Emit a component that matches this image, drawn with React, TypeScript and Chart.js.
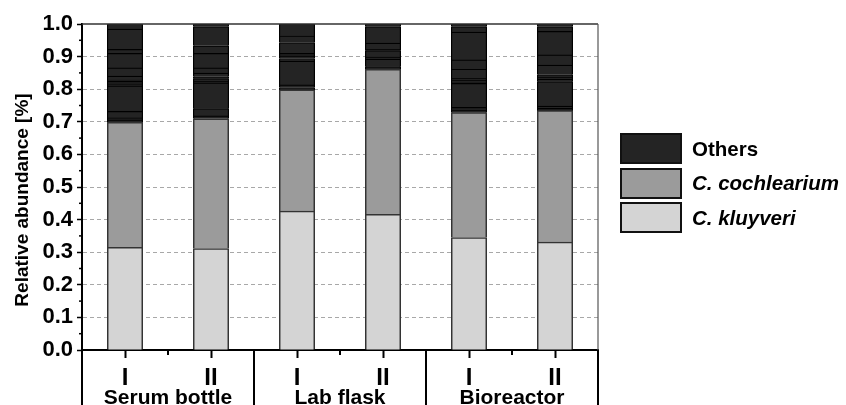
import React, { useEffect, useRef } from "react";
import { Chart, registerables } from "chart.js";

Chart.register(...registerables);

const samples = ["I", "II", "I", "II", "I", "II"];
const groups = ["Serum bottle", "Lab flask", "Bioreactor"];
const kluyveri = [0.315, 0.311, 0.426, 0.416, 0.345, 0.331];
const cochlearium = [0.383, 0.398, 0.372, 0.445, 0.383, 0.403];
// "Others" split into individual minor taxa, bottom to top
const othersSerumI = [0.008, 0.006, 0.02, 0.078, 0.006, 0.008, 0.004, 0.012, 0.025, 0.045, 0.012, 0.062, 0.016];
const othersSerumII = [0.009, 0.022, 0.079, 0.005, 0.008, 0.006, 0.011, 0.016, 0.045, 0.023, 0.059, 0.008];
const othersLabI = [0.007, 0.008, 0.073, 0.008, 0.008, 0.008, 0.033, 0.02, 0.037];
const othersLabII = [0.008, 0.023, 0.006, 0.02, 0.004, 0.019, 0.051, 0.008];
const othersBioI = [0.008, 0.008, 0.074, 0.004, 0.006, 0.005, 0.028, 0.029, 0.085, 0.017, 0.008];
const othersBioII = [0.007, 0.007, 0.075, 0.008, 0.006, 0.007, 0.03, 0.031, 0.072, 0.015, 0.008];
const yTicks = [0, 0.1, 0.2, 0.3, 0.4, 0.5, 0.6, 0.7, 0.8, 0.9, 1.0];

const FONT = '"Liberation Sans", Arial, Helvetica, sans-serif';
const COL_OTHERS = "#242424";
const COL_COCH = "#9b9b9b";
const COL_KLUY = "#d4d4d4";

const othersBySample = [othersSerumI, othersSerumII, othersLabI, othersLabII, othersBioI, othersBioII];

const decor = {
  id: "decor",
  afterDraw(chart: any) {
    const { ctx, chartArea: a, scales } = chart;
    const x = scales.x;
    const y = scales.y;
    const H = chart.height;
    const line = (x1: number, y1: number, x2: number, y2: number) => {
      ctx.beginPath();
      ctx.moveTo(x1, y1);
      ctx.lineTo(x2, y2);
      ctx.stroke();
    };
    ctx.save();
    // frame top & right
    ctx.strokeStyle = "#333";
    ctx.lineWidth = 1.5;
    line(a.left, a.top, a.right, a.top);
    ctx.strokeStyle = "#555";
    ctx.lineWidth = 1.2;
    line(a.right, a.top, a.right, a.bottom);
    // minor y ticks
    ctx.strokeStyle = "#000";
    ctx.lineWidth = 1.5;
    for (let i = 0; i < 10; i++) {
      const py = y.getPixelForValue(yTicks[i] + 0.05);
      line(a.left - 3, py, a.left, py);
    }
    // x: minor ticks within groups, separators between groups
    ctx.lineWidth = 2;
    for (let i = 0; i < samples.length - 1; i++) {
      const bx = (x.getPixelForValue(i) + x.getPixelForValue(i + 1)) / 2;
      if (i % 2 === 1) line(bx, a.bottom, bx, H);
      else line(bx, a.bottom, bx, a.bottom + 5);
    }
    line(a.left, a.bottom, a.left, H);
    line(a.right, a.bottom, a.right, H);
    // group labels
    ctx.fillStyle = "#000";
    ctx.font = `bold 21px ${FONT}`;
    ctx.textAlign = "center";
    ctx.textBaseline = "alphabetic";
    groups.forEach((g, gi) => {
      const cx = (x.getPixelForValue(gi * 2) + x.getPixelForValue(gi * 2 + 1)) / 2;
      ctx.fillText(g, cx, 404);
    });
    // y title
    ctx.translate(28, 200);
    ctx.rotate(-Math.PI / 2);
    ctx.font = `bold 19px ${FONT}`;
    ctx.textAlign = "center";
    ctx.fillText("Relative abundance [%]", 0, 0);
    ctx.restore();
  },
};

export default function App() {
  const ref = useRef<HTMLCanvasElement>(null);
  useEffect(() => {
    const maxLen = Math.max(...othersBySample.map((o) => o.length));
    const otherSets = [];
    for (let k = 0; k < maxLen; k++) {
      otherSets.push({
        label: "Others",
        data: othersBySample.map((o) => (k < o.length ? o[k] : null)),
        backgroundColor: COL_OTHERS,
        borderColor: "#000",
        borderWidth: 1.2,
        borderSkipped: "start",
        inflateAmount: 0.4,
      });
    }
    const chart = new Chart(ref.current as HTMLCanvasElement, {
      type: "bar",
      data: {
        labels: samples,
        datasets: [
          { label: "C. kluyveri", data: kluyveri, backgroundColor: COL_KLUY, borderColor: "#333", borderWidth: 1.5, borderSkipped: "start", inflateAmount: 0.4 },
          { label: "C. cochlearium", data: cochlearium, backgroundColor: COL_COCH, borderColor: "#333", borderWidth: 1.5, borderSkipped: "start", inflateAmount: 0.4 },
          ...otherSets,
        ] as any,
      },
      options: {
        animation: false,
        responsive: false,
        layout: { padding: { left: 0, right: 248, top: 24, bottom: 0 } },
        plugins: { legend: { display: false }, tooltip: { enabled: false } },
        datasets: { bar: { categoryPercentage: 1, barPercentage: 0.41 } },
        scales: {
          x: {
            stacked: true,
            offset: true,
            grid: { offset: false, drawOnChartArea: false, tickLength: 8, tickColor: "#000", tickWidth: 2 },
            border: { color: "#000", width: 2 },
            ticks: { color: "#000", font: { family: FONT, size: 24, weight: "bold" }, padding: 6 },
            afterFit: (s: any) => { s.height = 55; },
          },
          y: {
            stacked: true,
            min: 0,
            max: 1,
            afterBuildTicks: (s: any) => { s.ticks = yTicks.map((v) => ({ value: v })); },
            grid: {
              color: (c: any) => (c.tick && c.tick.value > 0.001 && c.tick.value < 0.999 ? "#a8a8a8" : "rgba(0,0,0,0)"),
              lineWidth: 1,
              tickLength: 5,
              tickColor: "#000",
              tickWidth: 1.5,
            },
            border: { color: "#000", width: 2, dash: [4, 3] },
            ticks: {
              color: "#000",
              padding: 4,
              font: { family: FONT, size: 22, weight: "bold" },
              callback: (v: any) => Number(v).toFixed(1),
            },
            afterFit: (s: any) => { s.width = 82; },
          },
        },
      } as any,
      plugins: [decor],
    });
    return () => chart.destroy();
  }, []);

  const legendItems = [
    { label: "Others", color: COL_OTHERS, italic: false },
    { label: "C. cochlearium", color: COL_COCH, italic: true },
    { label: "C. kluyveri", color: COL_KLUY, italic: true },
  ];

  return (
    <div style={{ position: "fixed", left: 0, top: 0, width: 846, height: 405, background: "#fff", overflow: "hidden" }}>
      <canvas ref={ref} width={846} height={405} style={{ position: "absolute", left: 0, top: 0 }} />
      {legendItems.map((it, i) => (
        <div key={it.label} style={{ position: "absolute", left: 620, top: 133 + i * 34.5, height: 31, display: "flex", alignItems: "center" }}>
          <div style={{ width: 62, height: 31, boxSizing: "border-box", border: "2px solid #111", background: it.color }} />
          <span style={{ marginLeft: 10, fontFamily: FONT, fontWeight: "bold", fontStyle: it.italic ? "italic" : "normal", fontSize: 20.5, color: "#000", whiteSpace: "nowrap" }}>
            {it.label}
          </span>
        </div>
      ))}
    </div>
  );
}
